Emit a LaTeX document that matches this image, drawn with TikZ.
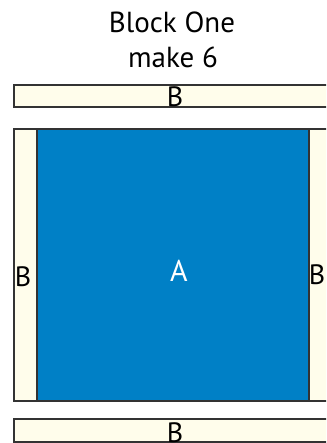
\documentclass[tikz,border=0pt]{standalone}
\usepackage{fontspec}
\setmainfont{PT Sans}
\definecolor{cream}{HTML}{FFFDEB}
\definecolor{blueA}{HTML}{0080C6}
\definecolor{edge}{HTML}{333333}
\begin{document}
\begin{tikzpicture}[x=1pt,y=-1pt,
  strip/.style={draw=edge,fill=cream,line width=1.2pt},
  core/.style={draw=edge,fill=blueA,line width=1.2pt},
  lbl/.style={inner sep=0pt,font=\fontsize{28}{28}\selectfont},
  title/.style={inner sep=0pt,font=\fontsize{29}{29}\selectfont}]
\useasboundingbox (0,0) rectangle (326,443);
\clip (0,0) rectangle (326,443);
\node[title,anchor=base] (t1) at (172,33) {Block One};
\node[title,anchor=base] (t2) at (173,68) {make 6};
% top strip
\path[strip] (14,85) rectangle (340,107);
% left strip
\path[strip] (14,129) rectangle (37,401);
% right strip
\path[strip] (309,129) rectangle (340,401);
% core
\path[core] (37,129) rectangle (309,401);
% bottom strip
\path[strip] (14,419) rectangle (340,442);
\node[lbl,anchor=base] (bt) at (175,107) {B};
\node[lbl,anchor=base] (bl) at (23,286) {B};
\node[lbl,anchor=base] (br) at (317,284) {B};
\node[lbl,anchor=base,text=white,font=\fontsize{30}{30}\selectfont] (a) at (179,281) {A};
\node[lbl,anchor=base] (bb) at (175,442) {B};
\end{tikzpicture}
\end{document}
